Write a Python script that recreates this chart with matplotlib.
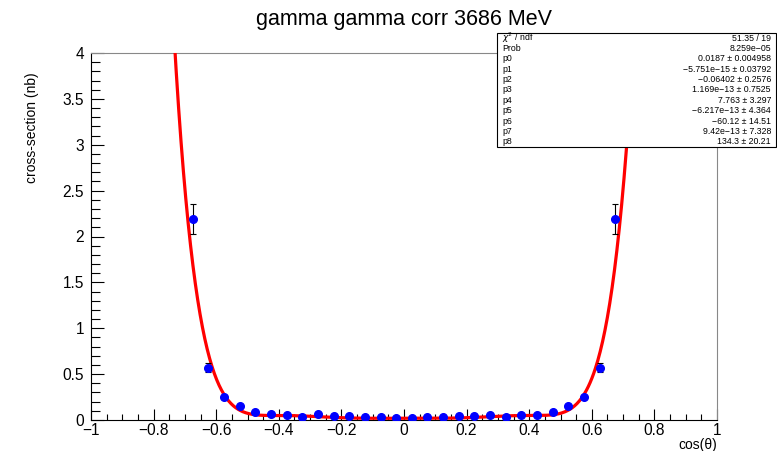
import numpy as np
import matplotlib
matplotlib.use("Agg")
import matplotlib.pyplot as plt
from matplotlib.ticker import MultipleLocator, FuncFormatter
from matplotlib.patches import Rectangle

plt.rcParams['font.family'] = ['Liberation Sans', 'DejaVu Sans']

# data
x_vals = [-0.675, -0.625, -0.575, -0.525, -0.475, -0.425, -0.375, -0.325, -0.275, -0.225,
          -0.175, -0.125, -0.075, -0.025, 0.025, 0.075, 0.125, 0.175, 0.225, 0.275,
          0.325, 0.375, 0.425, 0.475, 0.525, 0.575, 0.625, 0.675]
y_vals = [2.19, 0.57, 0.25, 0.15, 0.084, 0.062, 0.055, 0.036, 0.062, 0.044,
          0.047, 0.029, 0.033, 0.018, 0.018, 0.033, 0.033, 0.044, 0.044, 0.058,
          0.036, 0.051, 0.058, 0.084, 0.15, 0.25, 0.57, 2.19]
y_errs = [0.16, 0.05, 0.02, 0.015, 0.012, 0.01, 0.01, 0.01, 0.01, 0.01,
          0.01, 0.01, 0.01, 0.01, 0.01, 0.01, 0.01, 0.01, 0.01, 0.01,
          0.01, 0.01, 0.01, 0.012, 0.015, 0.02, 0.05, 0.16]

# fit parameters p0..p8 (polynomial coefficients)
params = [0.0187, -5.751e-15, -0.06402, 1.169e-13, 7.763, -6.217e-13, -60.12, 9.42e-13, 134.3]

stat_labels = ["$\\chi^2$ / ndf", "Prob", "p0", "p1", "p2", "p3", "p4", "p5", "p6", "p7", "p8"]
stat_values = ["51.35 / 19", "8.259e\u221205", "0.0187 \u00b1 0.004958",
               "\u22125.751e\u221215 \u00b1 0.03792", "\u22120.06402 \u00b1 0.2576",
               "1.169e\u221213 \u00b1 0.7525", "7.763 \u00b1 3.297",
               "\u22126.217e\u221213 \u00b1 4.364", "\u221260.12 \u00b1 14.51",
               "9.42e\u221213 \u00b1 7.328", "134.3 \u00b1 20.21"]

W, H = 777, 451
fig = plt.figure(figsize=(W / 100, H / 100), dpi=100)
L, R, T, B = 91, 717, 53, 420
ax = fig.add_axes([L / W, 1 - B / H, (R - L) / W, (B - T) / H])

xf = np.linspace(-0.76, 0.76, 800)
yf = np.polyval(params[::-1], xf)
ax.plot(xf, yf, color='red', lw=2.3, zorder=3)

ax.errorbar(x_vals, y_vals, yerr=y_errs, fmt='o', color='blue', markersize=5.5,
            ecolor='black', elinewidth=0.8, capsize=2, capthick=0.8, zorder=4)

ax.set_xlim(-1, 1)
ax.set_ylim(0, 4)
ax.xaxis.set_major_locator(MultipleLocator(0.2))
ax.xaxis.set_minor_locator(MultipleLocator(0.05))
ax.yaxis.set_major_locator(MultipleLocator(0.5))
ax.yaxis.set_minor_locator(MultipleLocator(0.1))

def fmt(v, pos):
    if abs(v) < 1e-9:
        v = 0.0
    return ("%g" % v).replace('-', '\u2212')
ax.xaxis.set_major_formatter(FuncFormatter(fmt))
ax.yaxis.set_major_formatter(FuncFormatter(fmt))

ax.tick_params(axis='x', which='major', direction='in', length=8, width=0.8, labelsize=11.2, pad=2.5)
ax.tick_params(axis='x', which='minor', direction='in', length=4, width=0.8)
ax.tick_params(axis='y', which='major', direction='in', length=9.5, width=0.8, labelsize=11.2, pad=5)
ax.tick_params(axis='y', which='minor', direction='in', length=6.5, width=0.8)
for s in ['top', 'right']:
    ax.spines[s].set_color('#888888')
for s in ax.spines.values():
    s.set_linewidth(0.8)

fig.text(404 / W, 1 - 20 / H, "gamma gamma corr 3686 MeV", ha='center', va='center', fontsize=15.5)
fig.text(32 / W, 1 - 72 / H, "cross-section (nb)", rotation=90, ha='center', va='top', fontsize=10)
fig.text(R / W, 1 - 444.5 / H, "cos(\u03b8)", ha='right', va='center', fontsize=10)

# stats box
bx0, bx1, by0, by1 = 497, 776, 33, 147
fig.patches.append(Rectangle((bx0 / W, 1 - by1 / H), (bx1 - bx0) / W, (by1 - by0) / H,
                             transform=fig.transFigure, facecolor='white', edgecolor='black',
                             lw=0.8, zorder=10))
n = len(stat_labels)
rh = (by1 - by0) / n
for i, (lab, val) in enumerate(zip(stat_labels, stat_values)):
    yc = by0 + rh * (i + 0.5)
    fig.text((bx0 + 5) / W, 1 - yc / H, lab, ha='left', va='center', fontsize=6.3, zorder=11)
    fig.text((bx1 - 5) / W, 1 - yc / H, val, ha='right', va='center', fontsize=6.3, zorder=11)

fig.savefig("out.png", dpi=100)
